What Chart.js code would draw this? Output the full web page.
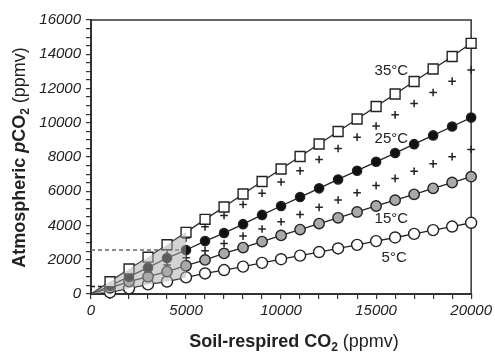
<!DOCTYPE html>
<html><head><meta charset="utf-8">
<script src="https://cdn.jsdelivr.net/npm/chart.js@4"></script>
<style>html,body{margin:0;padding:0;background:#fff}</style>
</head><body>
<canvas id="c" width="495" height="352"></canvas>
<script>
// ---- data ----
const soilCO2 = [0,1000,2000,3000,4000,5000,6000,7000,8000,9000,10000,11000,12000,13000,14000,15000,16000,17000,18000,19000,20000];
const t35 = [0,720,1460,2150,2880,3600,4360,5080,5840,6570,7300,8030,8760,9490,10220,10950,11680,12410,13140,13870,14640];
const t25 = [0,480,1010,1540,2100,2570,3090,3560,4080,4620,5140,5660,6170,6690,7200,7720,8230,8750,9260,9780,10300];
const t15 = [0,360,720,1010,1310,1650,1990,2370,2710,3060,3420,3760,4110,4450,4790,5140,5480,5820,6170,6510,6850];
const t05 = [0,90,330,560,730,970,1200,1400,1600,1820,2030,2240,2450,2660,2870,3090,3300,3510,3730,3940,4160];
const t30 = [null,650,1310,1960,2620,3270,3920,4580,5230,5890,6540,7190,7850,8500,9160,9810,10460,11120,11770,12430,13080];
const t20 = [null,420,840,1270,1690,2110,2530,2950,3380,3800,4220,4640,5060,5490,5910,6330,6750,7170,7600,8020,8440];
const shadeMaxX = 5000;
const guideGray = {y: 2570, x0: 0, x1: 5000};
const guideBlack = {y: 440, x0: 0, x1: 560};
const curveLabels = ['35°C','25°C','15°C','5°C'];
const curveLabelX = [15800,15800,15800,15950];
const curveLabelY = [13020,9050,4380,2130];
const xTickMajor = 5000, xTickMinor = 1000, xMax = 20000;
const yTickMajor = 2000, yTickMinor = 500, yMax = 16000;

const pts = (arr) => soilCO2.map((x,i)=>({x, y: arr[i]})).filter(p=>p.y!==null);
const shadePts = (arr) => pts(arr).filter(p=>p.x<=shadeMaxX);

const FONT = '"Liberation Sans", Arial, Helvetica, sans-serif';
const INK = '#222';

function drawMixed(ctx, parts, cx, baseline){
  let total = 0;
  parts.forEach(p=>{ctx.font=p.f; p.w=ctx.measureText(p.t).width; total+=p.w;});
  let x = cx - total/2;
  ctx.textAlign='left'; ctx.textBaseline='alphabetic';
  parts.forEach(p=>{ctx.font=p.f; ctx.fillText(p.t, x, baseline + (p.dy||0)); x+=p.w;});
}

const annot = {
  id:'annot',
  beforeDatasetsDraw(chart){
    const ctx=chart.ctx, a=chart.chartArea;
    ctx.save();
    ctx.strokeStyle='#333'; ctx.lineWidth=1.5;
    ctx.beginPath(); ctx.moveTo(a.left,a.top); ctx.lineTo(a.right,a.top); ctx.lineTo(a.right,a.bottom); ctx.stroke();
    ctx.restore();
  },
  afterDraw(chart){
    const ctx=chart.ctx, xs=chart.scales.x, ys=chart.scales.y;
    ctx.save();
    ctx.fillStyle=INK;
    ctx.font='15px '+FONT; ctx.textAlign='center'; ctx.textBaseline='middle';
    curveLabels.forEach((t,i)=>ctx.fillText(t, xs.getPixelForValue(curveLabelX[i]), ys.getPixelForValue(curveLabelY[i])));
    // x title
    drawMixed(ctx,[
      {t:'Soil-respired CO', f:'bold 18px '+FONT},
      {t:'2', f:'bold 12px '+FONT, dy:4},
      {t:' (ppmv)', f:'18px '+FONT}
    ], 294, 347);
    // y title
    ctx.translate(18,157.5); ctx.rotate(-Math.PI/2);
    drawMixed(ctx,[
      {t:'Atmospheric ', f:'bold 18px '+FONT},
      {t:'p', f:'italic bold 18px '+FONT},
      {t:'CO', f:'bold 18px '+FONT},
      {t:'2', f:'bold 12px '+FONT, dy:4},
      {t:' (ppmv)', f:'18px '+FONT}
    ], 0, 7);
    ctx.restore();
  }
};

const lineDs = (label, arr, style, r, bg) => ({
  label, data: pts(arr), borderColor: INK, borderWidth: 1.3, showLine: true,
  pointStyle: style, pointRadius: c => c.dataIndex===0 ? 0 : r, pointBackgroundColor: bg,
  pointBorderColor: INK, pointBorderWidth: 1.4, clip: false, fill: false
});
const crossDs = (label, arr) => ({
  label, data: pts(arr), showLine: false, pointStyle: 'cross', pointRadius: 3.8,
  pointBorderColor: INK, pointBorderWidth: 1.5, borderColor: INK, clip: false, fill:false
});

new Chart(document.getElementById('c'), {
  type: 'line',
  data: { datasets: [
    {label:'shadeTop', data: shadePts(t35), borderWidth:0, pointRadius:0, fill:'+1', backgroundColor:'rgba(170,170,170,0.5)', tension:0},
    {label:'shadeBottom', data: shadePts(t05), borderWidth:0, pointRadius:0, fill:false},
    lineDs('35°C', t35, 'rect', 7, '#fff'),
    lineDs('25°C', t25, 'circle', 4.6, '#111'),
    lineDs('15°C', t15, 'circle', 5.2, '#a9a9a9'),
    lineDs('5°C', t05, 'circle', 5.5, '#fff'),
    crossDs('30°C', t30),
    crossDs('20°C', t20),
    {label:'guideGray', data:[{x:guideGray.x0,y:guideGray.y},{x:guideGray.x1,y:guideGray.y}], borderColor:'#666', borderWidth:1.5, borderDash:[4,3], pointRadius:0, fill:false},
    {label:'guideBlack', data:[{x:guideBlack.x0,y:guideBlack.y},{x:guideBlack.x1,y:guideBlack.y}], borderColor:'#111', borderWidth:1.5, borderDash:[4,3], pointRadius:0, fill:false}
  ]},
  options: {
    responsive:false, animation:false, events:[],
    layout:{padding:{top:20,right:22,left:0,bottom:0}},
    plugins:{legend:{display:false}, tooltip:{enabled:false}},
    scales:{
      x:{type:'linear', min:0, max:xMax,
        afterFit(s){s.height=58;},
        ticks:{stepSize:xTickMinor, autoSkip:false, maxRotation:0, padding:3, color:INK,
          font:{family:FONT, size:15, style:'italic'},
          callback:v=> v%xTickMajor===0 ? String(v) : ''},
        grid:{drawOnChartArea:false, drawTicks:true, tickLength:5, color:'#333', lineWidth:1.2},
        border:{display:true, color:'#333', width:2}
      },
      y:{type:'linear', min:0, max:yMax,
        afterFit(s){s.width=91;},
        ticks:{stepSize:yTickMinor, autoSkip:false, padding:5, color:INK,
          font:{family:FONT, size:15, style:'italic'},
          callback:v=> v%yTickMajor===0 ? String(v) : ''},
        grid:{drawOnChartArea:false, drawTicks:true, tickLength:5, color:'#333', lineWidth:1.2},
        border:{display:true, color:'#333', width:2}
      }
    }
  },
  plugins:[annot]
});
</script>
</body></html>
